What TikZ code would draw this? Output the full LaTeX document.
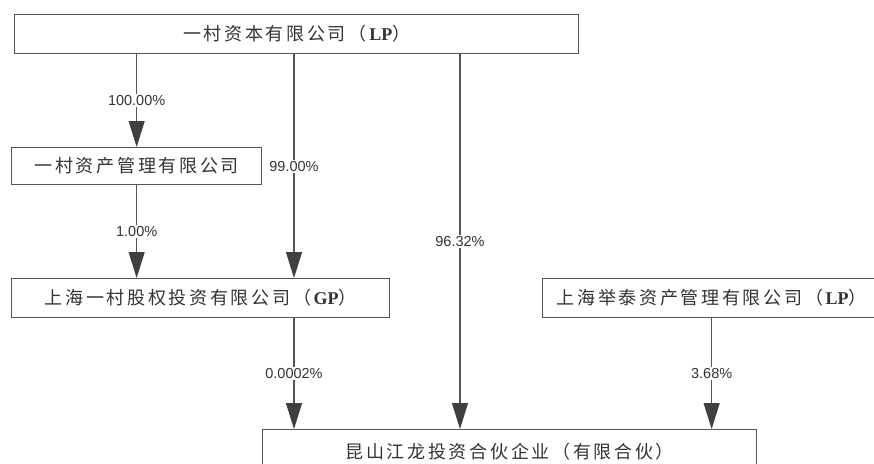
\documentclass[tikz,border=0pt]{standalone}
\usepackage{fontspec}
\setmainfont{Liberation Serif}
\setsansfont{Liberation Sans}
\newfontfamily\cjk[LetterSpace=15]{Noto Sans CJK SC}
\usetikzlibrary{positioning,calc,arrows.meta}
\definecolor{boxline}{HTML}{555555}
\definecolor{tipgray}{HTML}{404040}
\definecolor{txtgray}{HTML}{333333}
\begin{document}
\begin{tikzpicture}[x=1pt, y=-1pt,
			firm/.style={rectangle, draw=boxline, line width=1.3pt, text=txtgray, font=\cjk\fontsize{18}{20}\selectfont, anchor=north west, inner sep=0pt},
			link/.style={draw=boxline, line width=1.1pt, -{Triangle[length=26pt, width=16pt, fill=tipgray, color=tipgray]}},
			pct/.style={fill=white, text=txtgray, inner sep=1.5pt, font=\sffamily\fontsize{14.5}{16}\selectfont}]
			\useasboundingbox (0,0) rectangle (874,463);
			\clip (0,0) rectangle (874,463);
			\node[firm, minimum width=564pt, minimum height=39pt] (top) at (14,14) {一村资本有限公司（\textbf{\rmfamily LP}）};
			\node[firm, minimum width=250pt, minimum height=37pt] (b2) at (11,147) {一村资产管理有限公司};
			\node[firm, minimum width=378pt, minimum height=39pt] (b3) at (11,278) {上海一村股权投资有限公司（\textbf{\rmfamily GP}）};
			\node[firm, minimum width=338pt, minimum height=39pt] (b4) at (542,278) {上海举泰资产管理有限公司（\textbf{\rmfamily LP}）};
			\node[firm, minimum width=494pt, minimum height=44pt] (b5) at (262,429) {昆山江龙投资合伙企业（有限合伙）};
			\coordinate (c1) at (294,0);
			\coordinate (c2) at (460,0);
			\begin{scope}
				\draw[link] (top.south -| b2.north) -- node[pct] {100.00\%} (b2.north);
				\draw[link] (b2.south) -- node[pct] {1.00\%} (b3.north -| b2.south);
				\draw[link] (top.south -| c1) -- node[pct] {99.00\%} (b3.north -| c1);
				\draw[link] (top.south -| c2) -- node[pct] {96.32\%} (b5.north -| c2);
				\draw[link] (b3.south -| c1) -- node[pct] {0.0002\%} (b5.north -| c1);
				\draw[link] (b4.south) -- node[pct] {3.68\%} (b5.north -| b4.south);
			\end{scope}
		\end{tikzpicture}
\end{document}
